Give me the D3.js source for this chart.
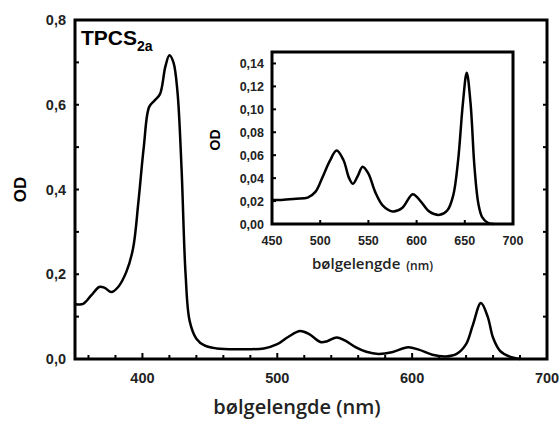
<!DOCTYPE html>
<html>
<head>
<meta charset="utf-8">
<script src="https://cdn.jsdelivr.net/npm/d3@7"></script>
<style>
  body { margin: 0; background: #fff; }
  svg { display: block; }
</style>
</head>
<body>
<div id="frame"></div>
<script>
// main spectrum (nm, OD)
const mainWave = [350, 356, 362, 368, 372, 377, 382, 388, 393, 397, 401, 405, 409, 413, 417, 420, 423, 426, 429, 432, 435, 440, 446, 455, 470, 490, 500, 508, 517, 524, 532, 537, 544, 550, 558, 566, 575, 585, 597, 605, 615, 625, 633, 640, 645, 651, 656, 660, 665, 672, 680];
const mainOD = [0.13, 0.13, 0.15, 0.17, 0.168, 0.158, 0.17, 0.205, 0.26, 0.37, 0.5, 0.595, 0.61, 0.625, 0.69, 0.717, 0.70, 0.63, 0.45, 0.20, 0.09, 0.048, 0.032, 0.025, 0.023, 0.025, 0.035, 0.052, 0.066, 0.058, 0.040, 0.042, 0.051, 0.044, 0.028, 0.017, 0.012, 0.016, 0.028, 0.022, 0.010, 0.006, 0.012, 0.035, 0.08, 0.132, 0.10, 0.05, 0.02, 0.006, 0.0];

// inset spectrum (zoom of 450-700 nm)
const insetWave = [450, 460, 475, 487, 495, 502, 510, 517, 524, 530, 534, 539, 544, 550, 557, 565, 575, 585, 596, 604, 613, 624, 632, 638, 643, 648, 652, 656, 660, 664, 668, 674, 680];
const insetOD = [0.021, 0.021, 0.022, 0.023, 0.028, 0.040, 0.055, 0.064, 0.056, 0.040, 0.035, 0.042, 0.050, 0.044, 0.028, 0.016, 0.011, 0.014, 0.026, 0.020, 0.011, 0.008, 0.012, 0.025, 0.055, 0.105, 0.132, 0.105, 0.05, 0.018, 0.006, 0.001, 0.0];

const mainXTicks = [400, 500, 600, 700];
const mainYTicks = [0, 0.2, 0.4, 0.6, 0.8];
const insetXTicks = [450, 500, 550, 600, 650, 700];
const insetYTicks = [0, 0.02, 0.04, 0.06, 0.08, 0.10, 0.12, 0.14];

const width = 560, height = 421;
const main = {left: 75, top: 20, right: 547, bottom: 359};
const inset = {left: 272, top: 52, right: 513, bottom: 224};
const fmt = d3.format(".1f"), fmt2 = d3.format(".2f");
const comma = s => s.replace(".", ",");

let svg = d3.select("#frame").append("svg")
    .attr("width", width).attr("height", height)
    .style("font-family", "'Liberation Sans', Arial, sans-serif");

let x = d3.scaleLinear().domain([350, 700]).range([main.left, main.right]);
let y = d3.scaleLinear().domain([0, 0.8]).range([main.bottom, main.top]);

// main ticks (inward)
let minorX = d3.range(360, 700, 20);
svg.append("g").selectAll("line").data(minorX).enter().append("line")
    .attr("x1", d => x(d)).attr("x2", d => x(d))
    .attr("y1", main.bottom).attr("y2", d => main.bottom - (d % 100 === 0 ? 6 : 4))
    .attr("stroke", "#000").attr("stroke-width", 2);
let minorY = d3.range(1, 8).map(d => d / 10);
[main.left, main.right].forEach((x0, side) => {
  svg.append("g").selectAll("line").data(minorY).enter().append("line")
      .attr("x1", x0).attr("x2", x0 + (side ? -4 : 4))
      .attr("y1", d => y(d)).attr("y2", d => y(d))
      .attr("stroke", "#000").attr("stroke-width", 2);
});

svg.append("g").selectAll("text").data(mainXTicks).enter().append("text")
    .attr("x", d => x(d)).attr("y", 383)
    .attr("text-anchor", "middle")
    .style("font-size", "14.5px").style("font-weight", "bold").style("fill", "#222")
    .text(d => d);
svg.append("g").selectAll("text").data(mainYTicks).enter().append("text")
    .attr("x", 66).attr("y", d => y(d) + 5)
    .attr("text-anchor", "end")
    .style("font-size", "14.5px").style("font-weight", "bold").style("fill", "#222")
    .text(d => comma(fmt(d)));

svg.append("text")
    .attr("transform", "translate(26," + ((main.top + main.bottom) / 2) + ") rotate(-90)")
    .attr("text-anchor", "middle")
    .style("font-size", "17px").style("font-weight", "bold")
    .text("OD");

svg.append("text")
    .attr("x", 297).attr("y", 414)
    .attr("text-anchor", "middle")
    .style("font-family", "'Open Sans', sans-serif")
    .style("font-size", "20px").style("font-weight", "600").style("fill", "#222")
    .text("bølgelengde  (nm)");

let title = svg.append("text").attr("x", 81).attr("y", 45)
    .style("font-size", "21px").style("font-weight", "bold");
title.append("tspan").text("TPCS");
title.append("tspan").attr("dy", 6).style("font-size", "14px").text("2a");

let line = d3.line().x(d => x(d[0])).y(d => y(d[1])).curve(d3.curveCatmullRom);
svg.append("path")
    .datum(d3.zip(mainWave, mainOD))
    .attr("d", line)
    .attr("fill", "none").attr("stroke", "#000").attr("stroke-width", 2.5);

svg.append("rect")
    .attr("x", main.left).attr("y", main.top)
    .attr("width", main.right - main.left).attr("height", main.bottom - main.top)
    .attr("fill", "none").attr("stroke", "#000").attr("stroke-width", 3);

// inset
let xi = d3.scaleLinear().domain([450, 700]).range([inset.left, inset.right]);
let yi = d3.scaleLinear().domain([0, 0.15]).range([inset.bottom, inset.top]);

svg.append("g").selectAll("line").data(insetXTicks.slice(1, -1)).enter().append("line")
    .attr("x1", d => xi(d)).attr("x2", d => xi(d))
    .attr("y1", inset.bottom).attr("y2", inset.bottom - 4)
    .attr("stroke", "#000").attr("stroke-width", 2);
svg.append("g").selectAll("line").data(insetYTicks.slice(1)).enter().append("line")
    .attr("x1", inset.left).attr("x2", inset.left + 4)
    .attr("y1", d => yi(d)).attr("y2", d => yi(d))
    .attr("stroke", "#000").attr("stroke-width", 2);

svg.append("g").selectAll("text").data(insetXTicks).enter().append("text")
    .attr("x", d => xi(d)).attr("y", 245)
    .attr("text-anchor", "middle")
    .style("font-size", "12.5px").style("font-weight", "bold").style("fill", "#222")
    .text(d => d);
svg.append("g").selectAll("text").data(insetYTicks).enter().append("text")
    .attr("x", 264).attr("y", d => yi(d) + 4.5)
    .attr("text-anchor", "end")
    .style("font-size", "12.5px").style("font-weight", "bold").style("fill", "#222")
    .text(d => comma(fmt2(d)));

svg.append("text")
    .attr("transform", "translate(220," + ((inset.top + inset.bottom) / 2 + 2) + ") rotate(-90)")
    .attr("text-anchor", "middle")
    .style("font-size", "14px").style("font-weight", "bold")
    .text("OD");

let ilab = svg.append("text").attr("x", 312).attr("y", 269)
    .style("font-family", "'Open Sans', sans-serif").style("fill", "#222");
ilab.append("tspan").style("font-size", "15px").style("font-weight", "600").text("bølgelengde");
ilab.append("tspan").attr("dx", 6).attr("dy", 1).style("font-size", "12px").style("font-weight", "600").text("(nm)");

let iline = d3.line().x(d => xi(d[0])).y(d => yi(d[1])).curve(d3.curveCatmullRom);
svg.append("path")
    .datum(d3.zip(insetWave, insetOD))
    .attr("d", iline)
    .attr("fill", "none").attr("stroke", "#000").attr("stroke-width", 2.5);

svg.append("rect")
    .attr("x", inset.left).attr("y", inset.top)
    .attr("width", inset.right - inset.left).attr("height", inset.bottom - inset.top)
    .attr("fill", "none").attr("stroke", "#000").attr("stroke-width", 3);
</script>
</body>
</html>
